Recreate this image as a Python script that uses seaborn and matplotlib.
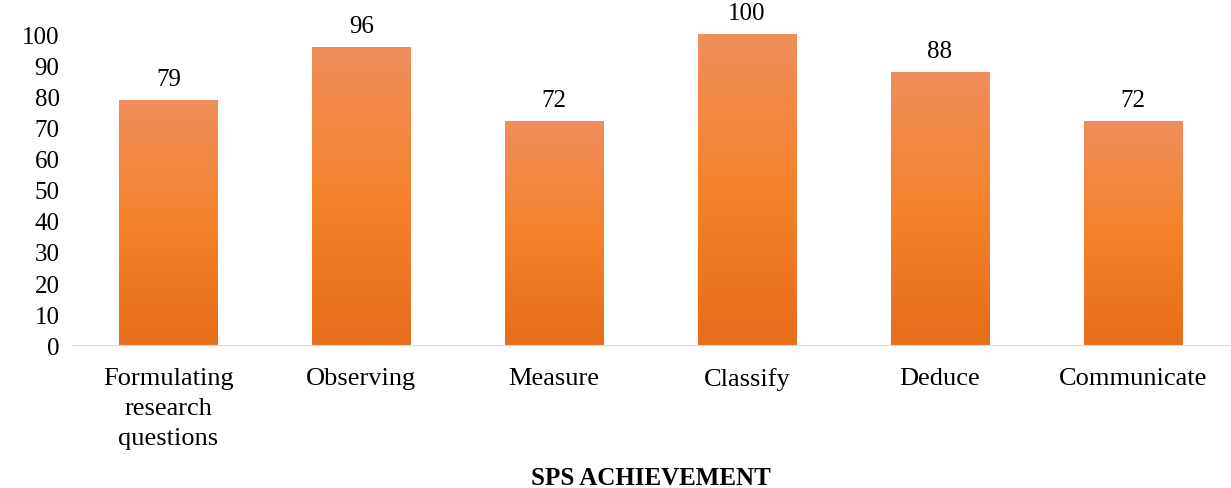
import numpy as np
import pandas as pd
import matplotlib
matplotlib.use("Agg")
import matplotlib.pyplot as plt
from matplotlib.colors import LinearSegmentedColormap
import seaborn as sns

skills = ["Formulating\nresearch\nquestions", "Observing", "Measure",
          "Classify", "Deduce", "Communicate"]
scores = [79, 96, 72, 100, 88, 72]
yticks = [0, 10, 20, 30, 40, 50, 60, 70, 80, 90, 100]

df = pd.DataFrame({"skill": skills, "score": scores})

sns.set_style("white")
plt.rcParams["font.family"] = ["Liberation Serif", "DejaVu Serif"]
plt.rcParams["text.color"] = "black"
plt.rcParams["xtick.color"] = "black"
plt.rcParams["ytick.color"] = "black"

fig = plt.figure(figsize=(12.31, 4.89), dpi=100)
ax = fig.add_axes([0.0585, 0.292, 0.94, 0.636])

sns.barplot(data=df, x="skill", y="score", color="#F5822A", width=0.51, ax=ax)

# orange gradient: lighter on top, darker at the bottom
cmap = LinearSegmentedColormap.from_list("og", ["#E66D1B", "#F5822A", "#F08E5C"])
grad = np.linspace(0, 1, 256).reshape(-1, 1)
for bar in ax.patches:
    x0, y0 = bar.get_x(), bar.get_y()
    w, h = bar.get_width(), bar.get_height()
    bar.set_facecolor("none")
    bar.set_edgecolor("none")
    im = ax.imshow(grad, cmap=cmap, aspect="auto", origin="lower",
                   extent=[x0, x0 + w, y0, y0 + h], zorder=2)
    im.set_clip_path(bar)
    ax.text(x0 + w / 2, y0 + h + 3.2, f"{h:g}", ha="center", va="bottom",
            fontsize=18, zorder=3)

ax.set_xlim(-0.5, len(skills) - 0.5)
ax.set_ylim(0, 100)
ax.set_yticks(yticks)
ax.tick_params(axis="y", labelsize=18, length=0, pad=9)
ax.tick_params(axis="x", labelsize=19, length=0, pad=16)
for lbl in ax.get_xticklabels():
    lbl.set_linespacing(1.45)
for s in ["top", "right", "left"]:
    ax.spines[s].set_visible(False)
ax.spines["bottom"].set_color("#D9D9D9")
ax.set_ylabel("")
ax.set_xlabel("")

fig.text(0.529, 0.022, "SPS ACHIEVEMENT", ha="center", va="center",
         fontsize=18, fontweight="bold", color="black")

fig.savefig("out.png", dpi=100)
